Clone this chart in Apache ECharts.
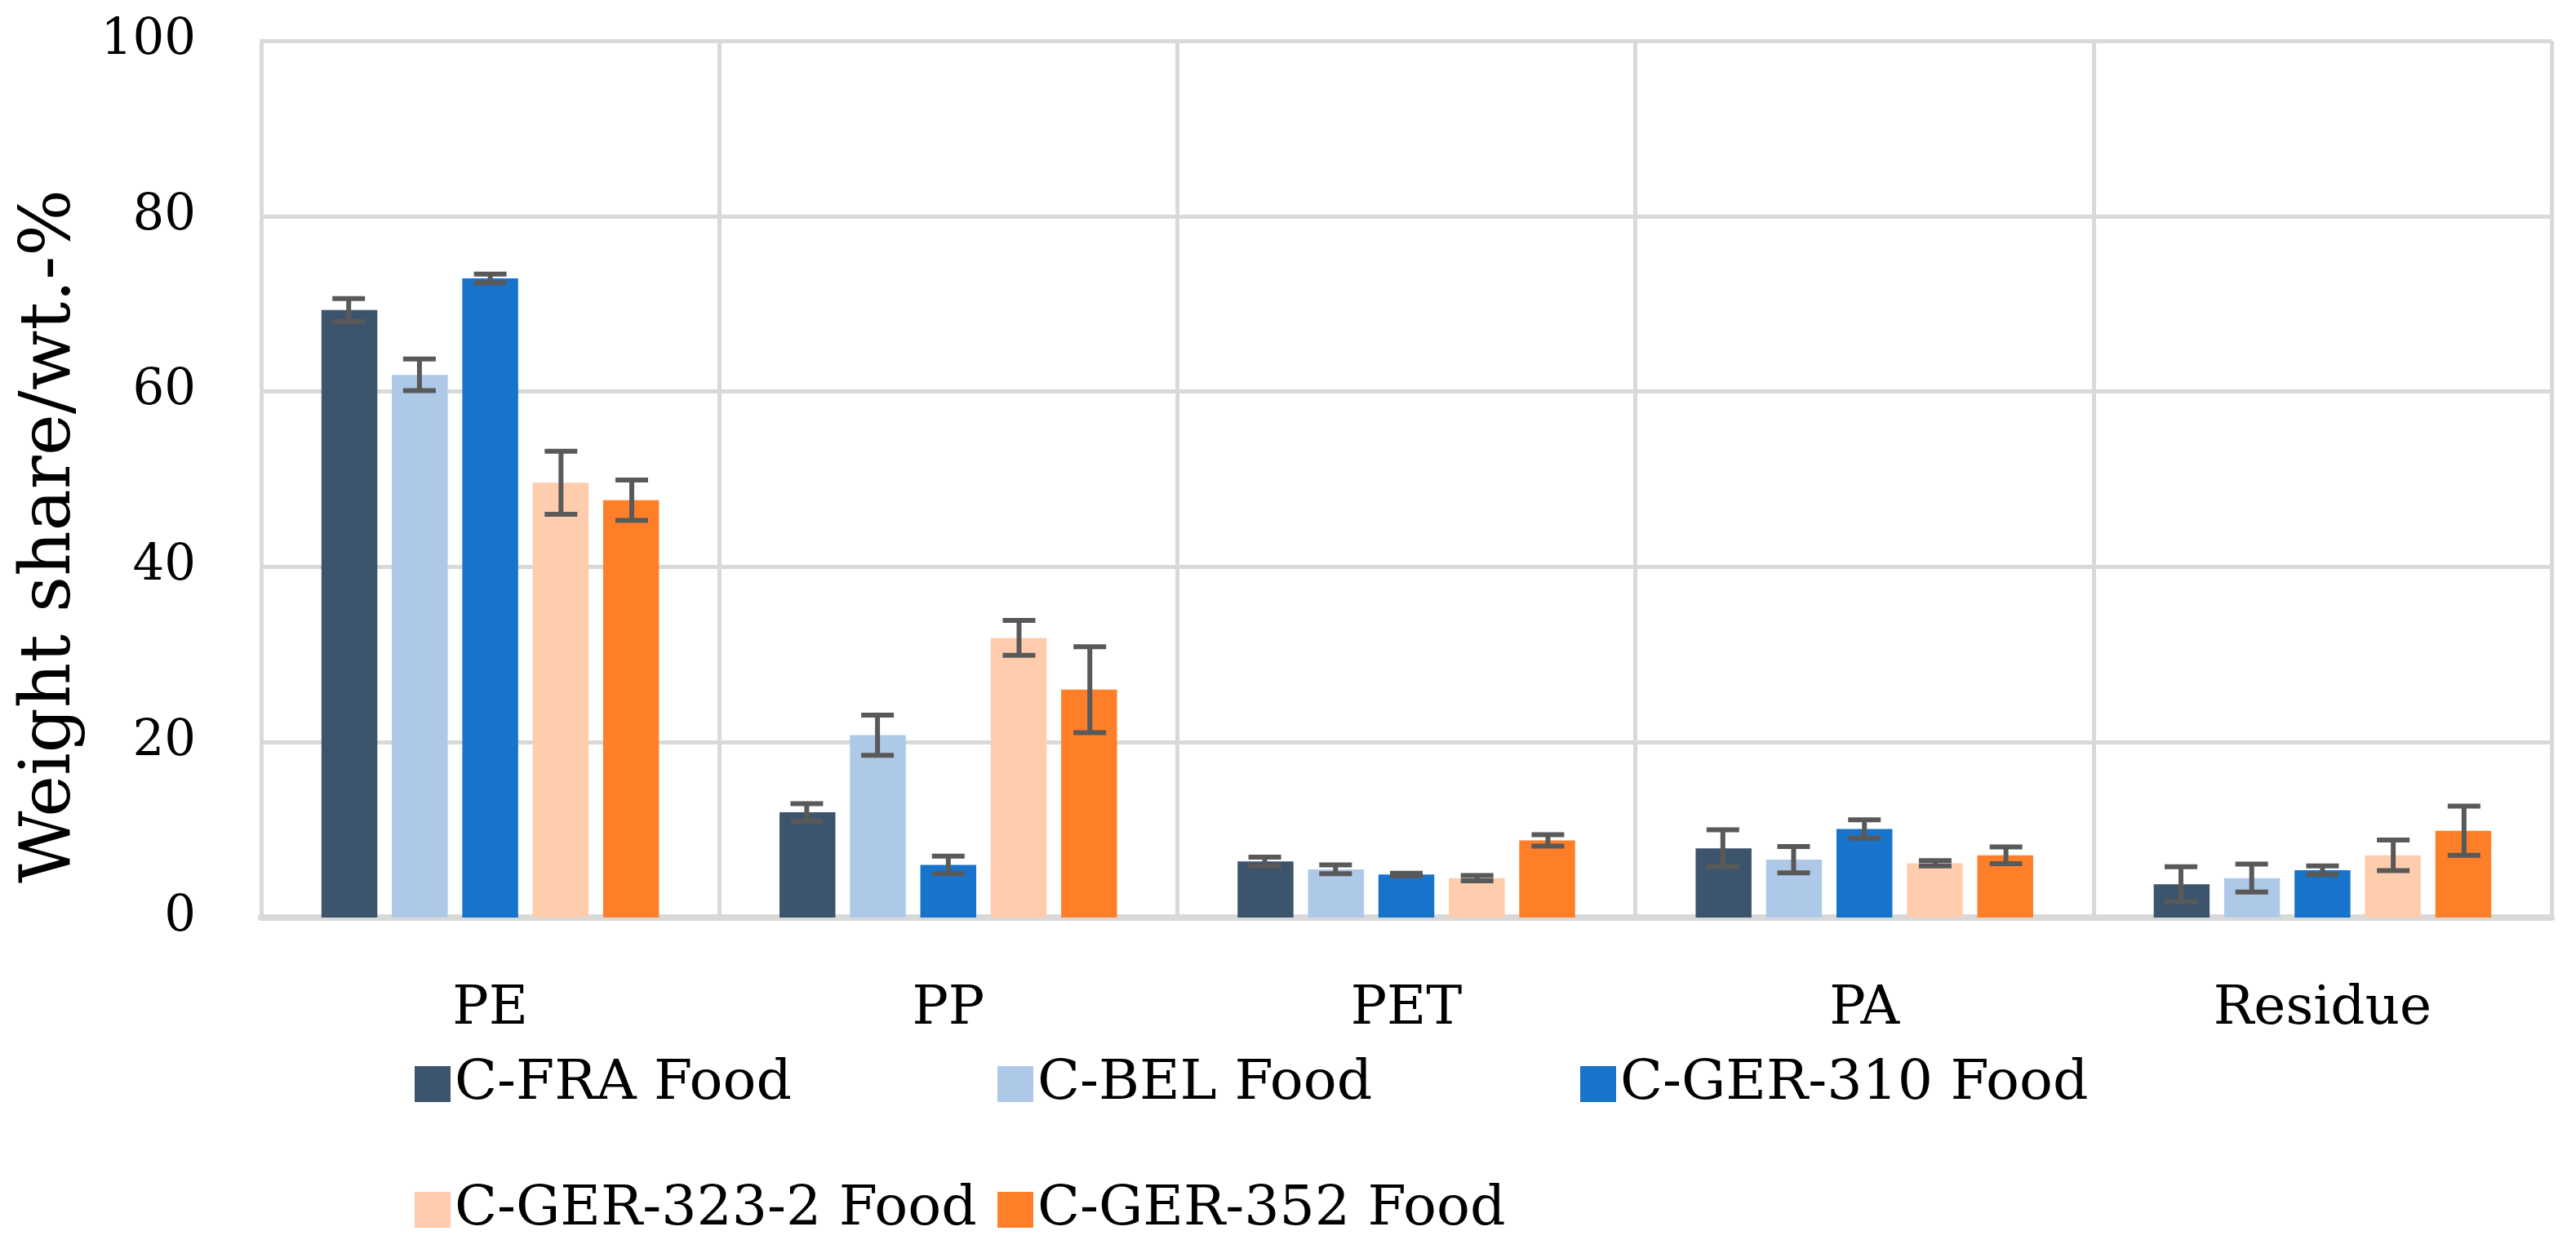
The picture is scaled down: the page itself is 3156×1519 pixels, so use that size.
<!DOCTYPE html>
<html>
<head>
<meta charset="utf-8">
<script src="https://cdn.jsdelivr.net/npm/echarts@6/dist/echarts.min.js"></script>
<style>
html,body{margin:0;padding:0;background:#fff;}
#chart{width:3156px;height:1519px;}
</style>
</head>
<body>
<div id="chart"></div>
<script>
// ---- data ----
var categories = ['PE', 'PP', 'PET', 'PA', 'Residue'];
var seriesNames = ['C-FRA Food', 'C-BEL Food', 'C-GER-310 Food', 'C-GER-323-2 Food', 'C-GER-352 Food'];
var fraValues   = [69.3, 12.0, 6.4, 7.9, 3.8];
var fraErrors   = [1.3, 1.0, 0.5, 2.1, 2.0];
var belValues   = [61.9, 20.8, 5.5, 6.6, 4.5];
var belErrors   = [1.8, 2.3, 0.5, 1.5, 1.6];
var ger310Values = [72.9, 6.0, 4.9, 10.1, 5.4];
var ger310Errors = [0.5, 1.0, 0.15, 1.05, 0.5];
var ger323Values = [49.6, 31.9, 4.5, 6.2, 7.1];
var ger323Errors = [3.6, 2.0, 0.3, 0.3, 1.75];
var ger352Values = [47.6, 26.0, 8.8, 7.1, 9.9];
var ger352Errors = [2.3, 4.9, 0.65, 0.95, 2.8];
var yTicks = [0, 20, 40, 60, 80, 100];

var colors = ['#3D546D', '#AEC8E8', '#1874CA', '#FFCCAD', '#FF7F28'];
var allValues = [fraValues, belValues, ger310Values, ger323Values, ger352Values];
var allErrors = [fraErrors, belErrors, ger310Errors, ger323Errors, ger352Errors];

var FONT = 'DejaVu Serif';
var BAR_FRAC = 0.122;   // bar width as fraction of category
var PITCH_FRAC = 0.1545; // bar + gap as fraction of category

var chart = echarts.init(document.getElementById('chart'), null, {renderer: 'canvas', devicePixelRatio: 1});

var series = [];
allValues.forEach(function (vals, k) {
  series.push({
    name: seriesNames[k],
    type: 'bar',
    data: vals,
    barWidth: (BAR_FRAC * 100) + '%',
    barGap: '26%',
    itemStyle: {color: colors[k]},
    animation: false,
    z: 2
  });
});
allValues.forEach(function (vals, k) {
  var errs = allErrors[k];
  series.push({
    name: 'err' + k,
    type: 'custom',
    data: vals.map(function (v, i) { return [i, v, errs[i]]; }),
    animation: false,
    z: 5,
    silent: true,
    renderItem: function (params, api) {
      var idx = api.value(0), v = api.value(1), e = api.value(2);
      var top = api.coord([idx, v + e]);
      var bot = api.coord([idx, v - e]);
      var cw = api.size([1, 0])[0];
      var x = top[0] + (k - 2) * cw * PITCH_FRAC;
      var capHalf = 20;
      var style = {stroke: '#595959', lineWidth: 6};
      return {
        type: 'group',
        children: [
          {type: 'line', shape: {x1: x, y1: top[1], x2: x, y2: bot[1]}, style: style},
          {type: 'line', shape: {x1: x - capHalf, y1: top[1], x2: x + capHalf, y2: top[1]}, style: style},
          {type: 'line', shape: {x1: x - capHalf, y1: bot[1], x2: x + capHalf, y2: bot[1]}, style: style}
        ]
      };
    }
  });
});

function legendText() {
  return {fontFamily: FONT, fontSize: 68, color: '#000', width: 665, lineHeight: 76};
}

chart.setOption({
  backgroundColor: '#fff',
  animation: false,
  textStyle: {fontFamily: FONT},
  grid: {left: 320, right: 30, top: 50, bottom: 395, containLabel: false},
  legend: [
    {data: seriesNames.slice(0, 3), left: 508, top: 1290, orient: 'horizontal', icon: 'rect',
     itemWidth: 44, itemHeight: 44, itemGap: 0, padding: 0, textStyle: legendText(), selectedMode: false},
    {data: seriesNames.slice(3), left: 508, top: 1444, orient: 'horizontal', icon: 'rect',
     itemWidth: 44, itemHeight: 44, itemGap: 0, padding: 0, textStyle: legendText(), selectedMode: false}
  ],
  xAxis: {
    type: 'category',
    data: categories,
    boundaryGap: true,
    axisLine: {show: true, lineStyle: {color: '#D9D9D9', width: 8}},
    axisTick: {show: false},
    axisLabel: {fontFamily: FONT, fontSize: 66, color: '#000', margin: 75, lineHeight: 76},
    splitLine: {show: true, lineStyle: {color: '#D9D9D9', width: 5}}
  },
  yAxis: {
    type: 'value',
    min: 0, max: 100, interval: 20,
    name: 'Weight share/wt.-%',
    nameLocation: 'middle',
    nameGap: 212,
    nameTextStyle: {fontFamily: FONT, fontSize: 86, color: '#000', lineHeight: 90, padding: [0, 140, 0, 0]},
    axisLine: {show: true, lineStyle: {color: '#D9D9D9', width: 5}},
    axisTick: {show: false},
    axisLabel: {fontFamily: FONT, fontSize: 61, color: '#000', margin: 80,
      formatter: function (v) { return yTicks.indexOf(v) >= 0 ? String(v) : ''; }},
    splitLine: {show: true, lineStyle: {color: '#D9D9D9', width: 5}}
  },
  series: series
});
</script>
</body>
</html>
